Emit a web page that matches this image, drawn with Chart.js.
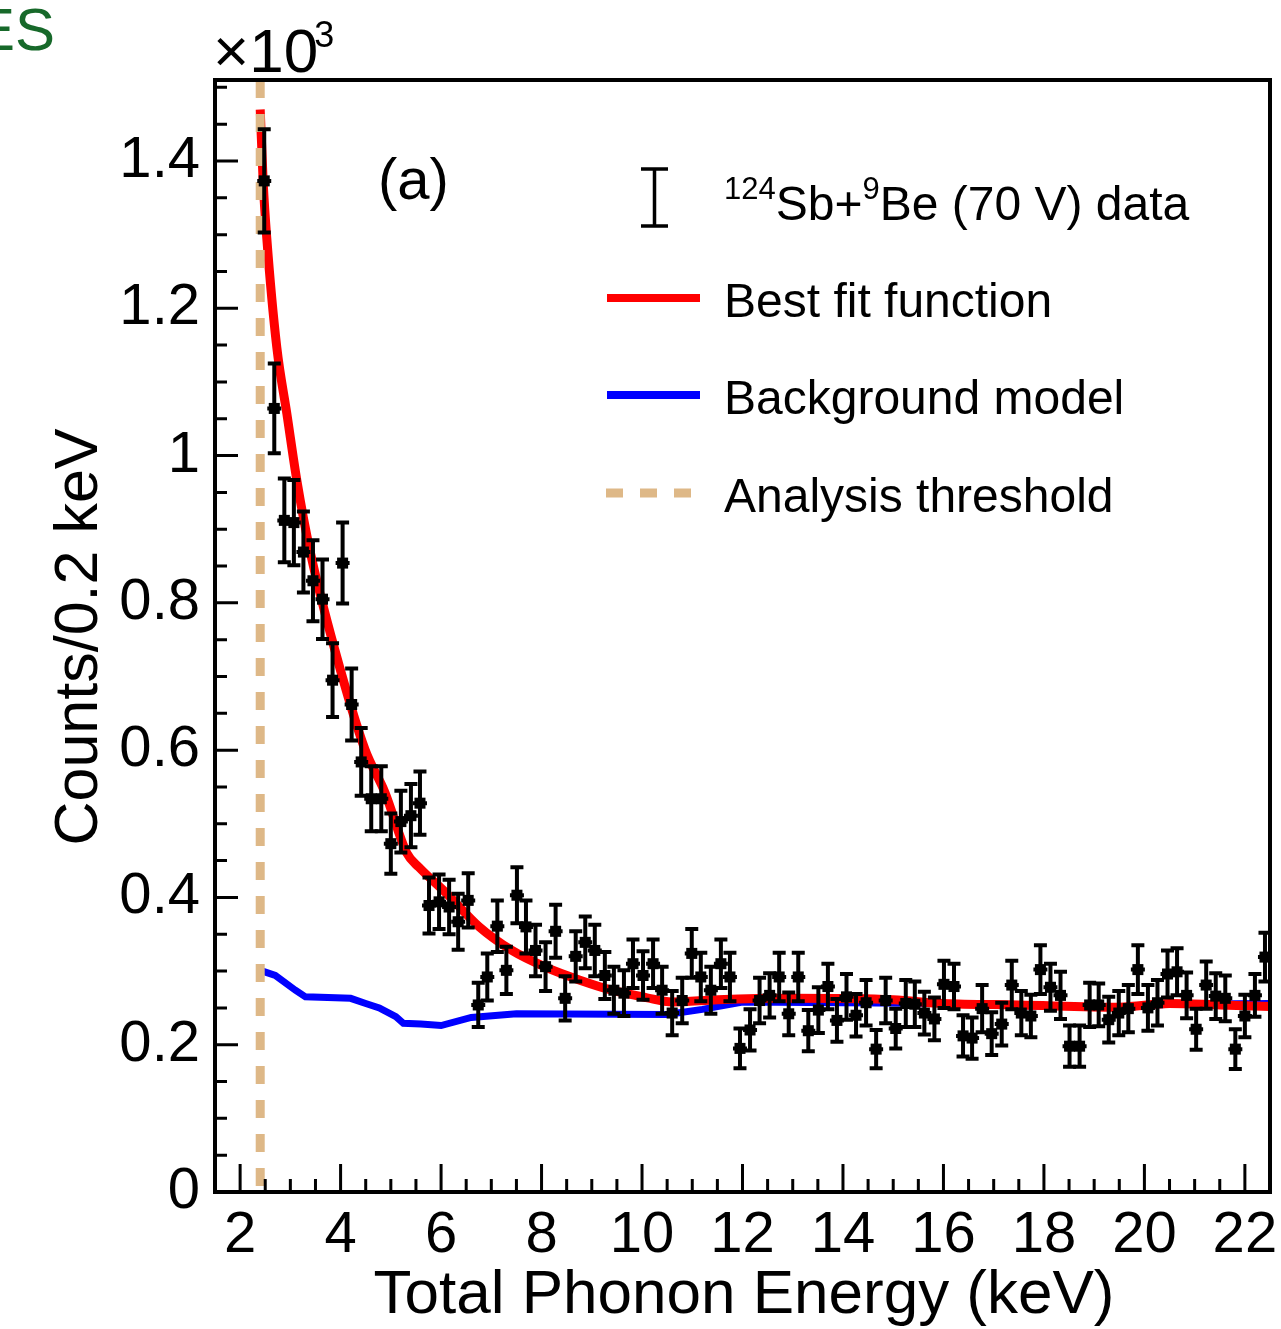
<!DOCTYPE html>
<html>
<head>
<meta charset="utf-8">
<script src="https://cdn.jsdelivr.net/npm/chart.js@4.4.1/dist/chart.umd.min.js"></script>
<style>
  html, body { margin: 0; padding: 0; background: #fff; }
  canvas { display: block; }
</style>
</head>
<body>
<canvas id="grafico" width="1281" height="1329"></canvas>
<script>
// Dados (Counts/0.2 keV, em unidades de 10^3)
const energia = [2.48, 2.68, 2.88, 3.07, 3.26, 3.45, 3.64, 3.84, 4.04, 4.22,
  4.41, 4.61, 4.81, 5.00, 5.20, 5.40, 5.58, 5.76, 5.96, 6.16,
  6.34, 6.54, 6.74, 6.92, 7.12, 7.30, 7.51, 7.69, 7.88, 8.08,
  8.28, 8.47, 8.68, 8.87, 9.06, 9.26, 9.44, 9.64, 9.82, 10.02,
  10.22, 10.40, 10.60, 10.80, 10.99, 11.17, 11.37, 11.57, 11.75, 11.95,
  12.15, 12.34, 12.54, 12.73, 12.92, 13.11, 13.31, 13.51, 13.70, 13.88,
  14.07, 14.26, 14.46, 14.66, 14.85, 15.05, 15.25, 15.43, 15.62, 15.82,
  16.01, 16.21, 16.39, 16.57, 16.77, 16.96, 17.16, 17.36, 17.55, 17.74,
  17.93, 18.13, 18.33, 18.51, 18.71, 18.91, 19.09, 19.29, 19.49, 19.68,
  19.87, 20.07, 20.26, 20.46, 20.65, 20.84, 21.03, 21.23, 21.42, 21.61,
  21.81, 22.00, 22.20, 22.40];
const contagens = [1.373, 1.064, 0.912, 0.909, 0.869, 0.830, 0.805, 0.695, 0.854, 0.662,
  0.584, 0.534, 0.534, 0.473, 0.503, 0.511, 0.528, 0.389, 0.394, 0.387,
  0.367, 0.396, 0.254, 0.292, 0.361, 0.301, 0.403, 0.360, 0.328, 0.306,
  0.354, 0.263, 0.320, 0.339, 0.328, 0.294, 0.274, 0.270, 0.310, 0.294,
  0.310, 0.274, 0.243, 0.260, 0.324, 0.292, 0.274, 0.310, 0.292, 0.195,
  0.220, 0.260, 0.267, 0.292, 0.242, 0.292, 0.219, 0.247, 0.279, 0.233,
  0.265, 0.240, 0.257, 0.194, 0.260, 0.222, 0.256, 0.255, 0.243, 0.235,
  0.282, 0.279, 0.212, 0.209, 0.249, 0.215, 0.228, 0.281, 0.243, 0.239,
  0.302, 0.278, 0.267, 0.198, 0.198, 0.254, 0.254, 0.234, 0.243, 0.249,
  0.302, 0.250, 0.257, 0.296, 0.299, 0.267, 0.221, 0.281, 0.266, 0.263,
  0.194, 0.239, 0.267, 0.319];
const erros = [0.070, 0.061, 0.057, 0.058, 0.055, 0.055, 0.054, 0.050, 0.055, 0.049,
  0.046, 0.044, 0.044, 0.041, 0.042, 0.043, 0.043, 0.038, 0.037, 0.037,
  0.038, 0.037, 0.030, 0.032, 0.035, 0.032, 0.038, 0.036, 0.035, 0.033,
  0.036, 0.030, 0.034, 0.035, 0.035, 0.032, 0.032, 0.031, 0.033, 0.033,
  0.033, 0.032, 0.030, 0.031, 0.033, 0.033, 0.032, 0.033, 0.033, 0.027,
  0.028, 0.031, 0.030, 0.033, 0.029, 0.033, 0.028, 0.031, 0.031, 0.029,
  0.031, 0.029, 0.031, 0.026, 0.031, 0.027, 0.032, 0.031, 0.029, 0.029,
  0.032, 0.031, 0.028, 0.028, 0.032, 0.029, 0.029, 0.033, 0.030, 0.029,
  0.033, 0.032, 0.032, 0.028, 0.028, 0.030, 0.029, 0.031, 0.030, 0.032,
  0.033, 0.031, 0.031, 0.032, 0.032, 0.031, 0.028, 0.032, 0.031, 0.031,
  0.027, 0.029, 0.029, 0.033];

// Função de melhor ajuste
const ajusteX = [2.40, 2.46, 2.53, 2.73, 2.93, 3.13, 3.39, 3.89, 4.49, 4.88,
  5.32, 5.56, 6.10, 6.76, 7.41, 8.09, 8.75, 9.40, 10.08, 10.60,
  11.50, 13.00, 15.00, 16.00, 17.50, 19.50, 20.50, 21.50, 22.50];
const ajusteY = [1.470, 1.370, 1.296, 1.147, 1.057, 0.966, 0.871, 0.735, 0.600, 0.543,
  0.460, 0.441, 0.406, 0.360, 0.328, 0.305, 0.288, 0.274, 0.264, 0.258,
  0.261, 0.263, 0.261, 0.256, 0.254, 0.251, 0.256, 0.254, 0.252];

// Modelo de fundo
const fundoX = [2.40, 2.70, 3.10, 3.30, 4.20, 4.50, 4.77, 5.10, 5.25, 5.60,
  6.00, 6.60, 7.50, 10.50, 11.20, 12.00, 16.00, 17.50, 19.50, 20.50, 22.50];
const fundoY = [0.301, 0.294, 0.274, 0.265, 0.263, 0.256, 0.250, 0.238, 0.229, 0.228,
  0.226, 0.237, 0.242, 0.241, 0.248, 0.258, 0.256, 0.253, 0.251, 0.255, 0.256];

// Limiar de análise (keV)
const limiar = 2.4;
const limiteY = [0, 1.51];

const legenda = ['Best fit function', 'Background model', 'Analysis threshold'];

const FONTE = "'Liberation Sans', Arial, Helvetica, sans-serif";
Chart.defaults.font.family = FONTE;
Chart.defaults.color = '#000';

// Barras de erro por cima dos pontos
const barrasErro = {
  id: 'barrasErro',
  afterDatasetsDraw(chart) {
    const { ctx, scales: { x, y } } = chart;
    ctx.save();
    ctx.strokeStyle = '#000';
    ctx.lineWidth = 4;
    energia.forEach((e, i) => {
      const px = x.getPixelForValue(e);
      const py = y.getPixelForValue(contagens[i]);
      const topo = y.getPixelForValue(contagens[i] + erros[i]);
      const base = y.getPixelForValue(contagens[i] - erros[i]);
      ctx.beginPath();
      ctx.moveTo(px, topo); ctx.lineTo(px, base);
      ctx.moveTo(px - 6.5, topo); ctx.lineTo(px + 6.5, topo);
      ctx.moveTo(px - 6.5, base); ctx.lineTo(px + 6.5, base);
      ctx.moveTo(px - 7, py); ctx.lineTo(px + 7, py);
      ctx.stroke();
    });
    ctx.restore();
  }
};

// Moldura, marcas dos eixos, títulos e legenda
const moldura = {
  id: 'moldura',
  afterDraw(chart) {
    const { ctx, chartArea: a, scales: { x, y } } = chart;
    ctx.save();
    ctx.strokeStyle = '#000';
    ctx.lineWidth = 3;
    ctx.beginPath();
    for (let v = 1.5; v <= 22.5001; v += 0.5) {
      const px = x.getPixelForValue(v);
      const len = Math.abs(v % 2) < 1e-6 ? 28 : 13;
      ctx.moveTo(px, a.bottom); ctx.lineTo(px, a.bottom - len);
    }
    for (let v = 0; v <= 1.5001; v += 0.05) {
      const py = y.getPixelForValue(v);
      const k = Math.round(v / 0.05);
      const len = k % 4 === 0 ? 23 : 12;
      ctx.moveTo(a.left, py); ctx.lineTo(a.left + len, py);
    }
    ctx.stroke();
    ctx.lineWidth = 4;
    ctx.strokeRect(a.left, a.top, a.right - a.left, a.bottom - a.top);

    ctx.fillStyle = '#000';
    // títulos dos eixos
    ctx.font = '62px ' + FONTE;
    ctx.textAlign = 'center';
    ctx.textBaseline = 'alphabetic';
    ctx.fillText('Total Phonon Energy (keV)', 744, 1313);
    ctx.font = '61px ' + FONTE;
    ctx.save();
    ctx.translate(97, 637);
    ctx.rotate(-Math.PI / 2);
    ctx.fillText('Counts/0.2 keV', 0, 0);
    ctx.restore();

    // multiplicador do eixo y
    ctx.textAlign = 'left';
    ctx.font = '62px ' + FONTE;
    ctx.fillText('\u00d710', 213, 72);
    const w10 = ctx.measureText('\u00d710').width;
    ctx.font = '36px ' + FONTE;
    ctx.fillText('3', 213 + w10 - 4, 47);

    // rótulo do painel
    ctx.font = '58px ' + FONTE;
    ctx.fillText('(a)', 378, 199);

    // texto verde cortado no canto
    ctx.fillStyle = '#17692a';
    ctx.font = '60px ' + FONTE;
    ctx.fillText('ES', -25, 50);

    // legenda
    ctx.fillStyle = '#000';
    ctx.strokeStyle = '#000';
    ctx.lineWidth = 3.5;
    ctx.beginPath();
    ctx.moveTo(654.5, 169); ctx.lineTo(654.5, 226);
    ctx.moveTo(641, 169); ctx.lineTo(668, 169);
    ctx.moveTo(641, 226); ctx.lineTo(668, 226);
    ctx.stroke();

    let tx = 724;
    const partes = [['124', 31, -21], ['Sb+', 48, 0], ['9', 31, -21], ['Be (70 V) data', 48, 0]];
    partes.forEach(([t, tam, dy]) => {
      ctx.font = tam + 'px ' + FONTE;
      ctx.fillText(t, tx, 220 + dy);
      tx += ctx.measureText(t).width;
    });

    ctx.lineWidth = 8;
    ctx.strokeStyle = '#ff0000';
    ctx.beginPath(); ctx.moveTo(607, 298); ctx.lineTo(700, 298); ctx.stroke();
    ctx.strokeStyle = '#0000ff';
    ctx.beginPath(); ctx.moveTo(607, 395); ctx.lineTo(700, 395); ctx.stroke();
    ctx.strokeStyle = '#deb887';
    ctx.lineWidth = 9;
    ctx.setLineDash([17, 17]);
    ctx.beginPath(); ctx.moveTo(606, 493); ctx.lineTo(692, 493); ctx.stroke();
    ctx.setLineDash([]);

    ctx.font = '48px ' + FONTE;
    ctx.fillText(legenda[0], 724, 317);
    ctx.fillText(legenda[1], 724, 414);
    ctx.fillText(legenda[2], 724, 512);
    ctx.restore();
  }
};

const ctx = document.getElementById('grafico').getContext('2d');
const chart = new Chart(ctx, {
  type: 'scatter',
  data: {
    datasets: [{
      label: 'data',
      data: energia.map((e, i) => ({ x: e, y: contagens[i] })),
      pointStyle: 'rect',
      pointRadius: 7.8,
      backgroundColor: '#000',
      borderWidth: 0,
      showLine: false,
      order: 0
    }, {
      label: legenda[2],
      data: [{ x: limiar, y: limiteY[1] }, { x: limiar, y: limiteY[0] }],
      showLine: true,
      borderColor: '#deb887',
      borderWidth: 9,
      borderDash: [18, 16],
      pointRadius: 0,
      order: 1
    }, {
      label: legenda[0],
      data: ajusteX.map((e, i) => ({ x: e, y: ajusteY[i] })),
      showLine: true,
      borderColor: '#ff0000',
      borderWidth: 9,
      cubicInterpolationMode: 'monotone',
      pointRadius: 0,
      order: 2
    }, {
      label: legenda[1],
      data: fundoX.map((e, i) => ({ x: e, y: fundoY[i] })),
      showLine: true,
      borderColor: '#0000ff',
      borderWidth: 7,
      tension: 0,
      pointRadius: 0,
      order: 3
    }]
  },
  options: {
    responsive: false,
    animation: false,
    layout: { padding: { left: 0, top: 80, right: 11, bottom: 0 } },
    plugins: { legend: { display: false }, tooltip: { enabled: false } },
    scales: {
      x: {
        type: 'linear',
        min: 1.5,
        max: 22.5,
        grid: { display: false, drawTicks: false },
        border: { display: false },
        ticks: {
          stepSize: 2,
          includeBounds: false,
          autoSkip: false,
          maxRotation: 0,
          padding: 9,
          font: { size: 58 },
          color: '#000'
        },
        afterFit(scale) {
          scale.height = 137;
          scale.paddingLeft = 0;
          scale.paddingRight = 0;
        }
      },
      y: {
        type: 'linear',
        min: limiteY[0],
        max: limiteY[1],
        grid: { display: false, drawTicks: false },
        border: { display: false },
        ticks: {
          stepSize: 0.2,
          includeBounds: false,
          padding: 15,
          font: { size: 58 },
          color: '#000',
          callback: v => String(Number(v.toFixed(1)))
        },
        afterFit(scale) {
          scale.width = 215;
          scale.paddingTop = 0;
          scale.paddingBottom = 0;
        }
      }
    }
  },
  plugins: [barrasErro, moldura]
});
</script>
</body>
</html>
